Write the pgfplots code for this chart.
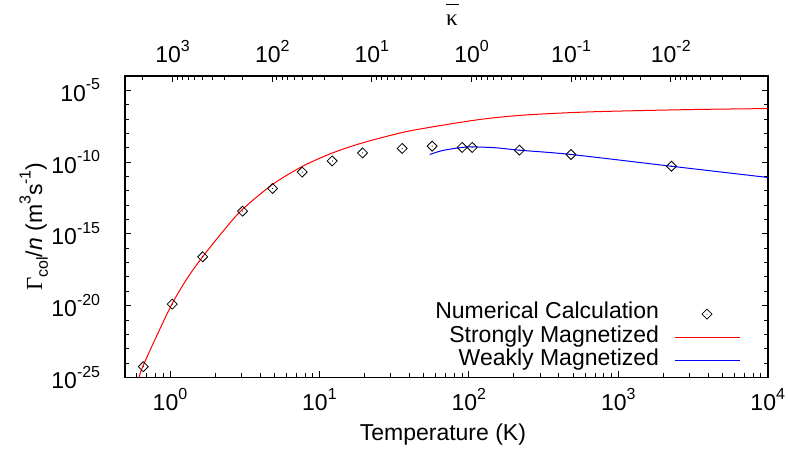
\documentclass[border=0pt]{standalone}
\usepackage{pgfplots}
\pgfplotsset{compat=1.18}
\usepackage{fontspec}
\setmainfont{Liberation Sans}
\newfontfamily\serifgreek{Liberation Serif}
\newcommand{\sps}[1]{\raisebox{0.5em}{\fontsize{16bp}{16bp}\selectfont #1}}
\newcommand{\tl}[1]{10\sps{#1}}
\pgfdeclareplotmark{ddiamond}{%
  \pgfpathmoveto{\pgfqpoint{0pt}{\pgfplotmarksize}}%
  \pgfpathlineto{\pgfqpoint{\pgfplotmarksize}{0pt}}%
  \pgfpathlineto{\pgfqpoint{0pt}{-\pgfplotmarksize}}%
  \pgfpathlineto{\pgfqpoint{-\pgfplotmarksize}{0pt}}%
  \pgfpathclose
  \pgfusepathqstroke
  \pgfpathcircle{\pgfpointorigin}{0.6pt}%
  \pgfusepathqfill
}
\pgfplotsset{
  mylegline/.style={legend image code/.code={\draw[##1] (0bp,0bp) -- (65bp,0bp);}},
  mylegmark/.style={legend image code/.code={\draw[mark repeat=2,mark phase=2,##1] plot coordinates {(0bp,0bp) (32.5bp,0bp) (65bp,0bp)};}},
}
\begin{document}
\fontsize{23bp}{27bp}\selectfont
\begin{tikzpicture}
\begin{axis}[name=main,
  scale only axis, width=642.7bp, height=301.3bp,
  xmode=log, ymode=log,
  xmin=0.5, xmax=1e4, ymin=1e-25, ymax=1e-4,
  xtick={1,10,100,1000,10000},
  xticklabels={\tl{0},\tl{1},\tl{2},\tl{3},\tl{4}},
  minor xtick={0.6,0.7,0.8,0.9,2,3,4,5,6,7,8,9,20,30,40,50,60,70,80,90,200,300,400,500,600,700,800,900,2000,3000,4000,5000,6000,7000,8000,9000},
  xtick pos=bottom,
  ytick={1e-25,1e-20,1e-15,1e-10,1e-5},
  yticklabels={\tl{-25},\tl{-20},\tl{-15},\tl{-10},\tl{-5}},
  minor ytick={1e-24,1e-23,1e-22,1e-21,1e-19,1e-18,1e-17,1e-16,1e-14,1e-13,1e-12,1e-11,1e-9,1e-8,1e-7,1e-6},
  ytick pos=both,
  tick align=inside,
  axis line style={line width=1.6bp},
  every tick/.style={black, line width=0.8bp},
  major tick length=6bp, minor tick length=4bp,
  xticklabel style={yshift=-3bp},
  yticklabel style={xshift=-17bp},
  xlabel={Temperature (K)},
  xlabel style={at={(axis description cs:0.4946,-0.2114)}, anchor=base},
  ylabel={{\serifgreek Γ}\raisebox{-0.25em}{\fontsize{16bp}{16bp}\selectfont col}/\textit{n} (m\sps{3}s\sps{-1})},
  ylabel style={at={(axis description cs:-0.1420,0.5)}, anchor=center},
  legend plot pos=right,
  legend cell align=right,
  legend style={draw=none, fill=none, at={(axis description cs:0.9569,0.0163)}, anchor=south east,
    inner sep=0pt, outer sep=0pt, column sep=15bp,
    nodes={inner sep=0pt, text height=16.5bp, text depth=6.8bp}},
]
\addplot[only marks, mark=ddiamond, mark size=5bp, mark options={black, line width=0.8bp}, mylegmark]
  coordinates {
  (0.663,5.5e-25) (1.036,1.26e-20) (1.655,2.51e-17) (3.06,3.8e-14) (4.86,1.45e-12)
  (7.67,2.0e-11) (12.18,1.2e-10) (19.45,4.37e-10) (35.8,8.9e-10) (56.8,1.29e-9)
  (90.2,1.05e-9) (105.2,1.05e-9) (218,6.76e-10) (483,3.39e-10) (2270,5.13e-11)
  };
\addlegendentry{Numerical Calculation}
\addplot[red, line width=1bp, smooth, mylegline]
  coordinates {
  (0.620,1e-25) (0.657,5.5e-25) (0.794,4.27e-23) (1.036,1.41e-20) (1.319,9.5e-19)
  (1.655,2.51e-17) (2.30,1.82e-15) (3.045,4.9e-14) (4.86,2.75e-12) (7.72,5.13e-11)
  (12.25,4.37e-10) (19.45,2.19e-9) (35.8,1.15e-8) (56.8,2.82e-8) (118.5,9.33e-8)
  (229.6,1.86e-7) (644,3.16e-7) (3008,4.57e-7) (10000,5.37e-7)
  };
\addlegendentry{Strongly Magnetized}
\addplot[blue, line width=1bp, smooth, mylegline]
  coordinates {
  (54.8,3.39e-10) (64,5.75e-10) (74.6,7.94e-10) (90.2,1.05e-9) (104.7,1.15e-9)
  (150,1.0e-9) (218,6.76e-10) (483,3.39e-10) (2270,5.13e-11) (10000,8.51e-12)
  };
\addlegendentry{Weakly Magnetized}
\end{axis}
\begin{axis}[
  scale only axis, width=642.7bp, height=301.3bp,
  xmode=log, x dir=reverse,
  xmin=1.064e-3, xmax=3009,
  ymin=0, ymax=1,
  axis x line*=top, axis y line=none,
  axis line style={line width=1.6bp},
  every tick/.style={black, line width=0.8bp},
  major tick length=6bp, minor tick length=4bp,
  tick align=inside,
  xtick={1e-2,1e-1,1,10,100,1000},
  xticklabels={\tl{-2},\tl{-1},\tl{0},\tl{1},\tl{2},\tl{3}},
  minor xtick={2e-3,3e-3,4e-3,5e-3,6e-3,7e-3,8e-3,9e-3,0.02,0.03,0.04,0.05,0.06,0.07,0.08,0.09,0.2,0.3,0.4,0.5,0.6,0.7,0.8,0.9,2,3,4,5,6,7,8,9,20,30,40,50,60,70,80,90,200,300,400,500,600,700,800,900,2000,3000},
  xticklabel style={yshift=5bp},
  xlabel={\rlap{\rule[21bp]{13bp}{1bp}}{\serifgreek κ}},
  xlabel style={at={(axis description cs:0.5088,1.166)}, anchor=base},
]
\end{axis}
\pgfresetboundingbox
\path ([shift={(-125bp,-77.7bp)}]main.south west) rectangle ([shift={(20.3bp,76bp)}]main.north east);
\end{tikzpicture}
\end{document}
